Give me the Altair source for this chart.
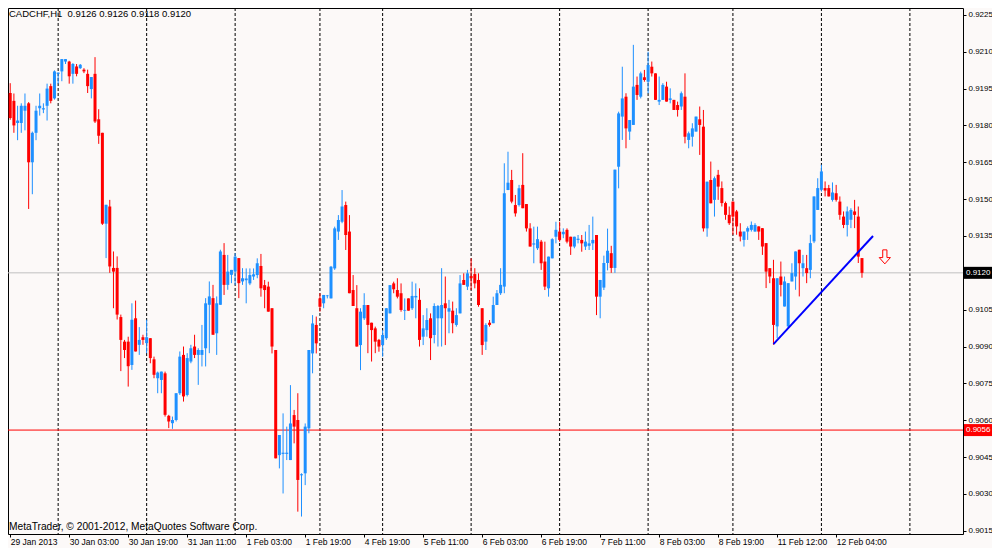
import altair as alt
import pandas as pd
import numpy as np

# ---------------- data ----------------
OPEN = [
    .91932, .91900, .91810, .91810, .91860, .91890, .91650, .91770, .91870, .91865,
    .91880, .91960, .91910, .92010, .92020, .92060, .92060, .92010, .92040, .92033,
    .92027, .92010, .91948, .92010, .91825, .91770, .91400, .91470, .91220, .91220,
    .91020, .90920, .90920, .90825, .91015, .90907, .90938, .90914, .90934, .90848,
    .90771, .90764, .90791, .90618, .90588, .90601, .90710, .90866, .90703, .90839,
    .90900, .90866, .90866, .90893, .91070, .91097, .90954, .91070, .91273, .91151,
    .91192, .91205, .91260, .91165, .91170, .91157, .91185, .91191, .91228, .91150,
    .91144, .91056, .90886, .90458, .90463, .90463, .90438, .90621, .90601, .90376,
    .90384, .90567, .90872, .90988, .91096, .91076, .91105, .91096, .91218, .91368,
    .91408, .91476, .91368, .91130, .91056, .90906, .91015, .91069, .90997, .90974,
    .90927, .90906, .90934, .91035, .91157, .91130, .91117, .91046, .91096, .91056,
    .91100, .91090, .90940, .90967, .91015, .90947, .91015, .91015, .91076, .91042,
    .91046, .90988, .91035, .91171, .91144, .91187, .91195, .91171, .91056, .90920,
    .90997, .90995, .91069, .91117, .91144, .91537, .91578, .91476, .91476, .91558,
    .91480, .91381, .91315, .91300, .91327, .91246, .91137, .91259, .91347, .91368,
    .91357, .91375, .91347, .91307, .91334, .91334, .91307, .91310, .91320, .91354,
    .91103, .91140, .91240, .91280, .91220, .91632, .91836, .91917, .91775, .91802,
    .91965, .91917, .91996, .91978, .92039, .92012, .91897, .91904, .91958, .91904,
    .91904, .91883, .91877, .91917, .91741, .91754, .91775, .91825, .91795, .91381,
    .91578, .91497, .91599, .91545, .91484, .91436, .91490, .91450, .91368, .91334,
    .91368, .91375, .91368, .91389, .91382, .91321, .91219, .91178, .90982, .91185,
    .91063, .90982, .91165, .91185, .91294, .91219, .91219, .91212, .91328, .91456,
    .91538, .91545, .91545, .91497, .91524, .91490, .91429, .91395, .91416, .91450,
    .91429, .91260,
]
HIGH = [
    .91972, .91930, .91880, .91890, .91930, .91895, .91775, .91880, .91930, .91890,
    .91970, .91970, .92024, .92015, .92070, .92070, .92063, .92054, .92050, .92050,
    .92033, .92027, .91997, .92078, .91866, .91770, .91477, .91497, .91287, .91267,
    .91030, .90927, .90940, .91076, .91087, .90979, .90948, .91009, .90934, .90859,
    .90798, .90798, .90798, .90622, .90615, .90710, .90880, .90900, .90873, .90907,
    .90948, .90893, .90988, .91097, .91165, .91151, .91104, .91294, .91321, .91273,
    .91212, .91280, .91260, .91219, .91218, .91218, .91218, .91259, .91277, .91171,
    .91164, .91056, .90886, .90540, .90628, .90574, .90743, .90642, .90710, .90384,
    .90587, .90886, .91028, .91022, .91117, .91110, .91110, .91228, .91388, .91435,
    .91537, .91490, .91435, .91191, .91150, .91056, .91117, .91069, .90997, .90981,
    .90931, .90967, .91056, .91150, .91164, .91178, .91157, .91096, .91096, .91164,
    .91157, .91137, .91028, .91056, .91035, .91076, .91069, .91219, .91185, .91090,
    .91083, .91056, .91191, .91198, .91212, .91259, .91219, .91198, .91056, .90995,
    .91008, .91103, .91130, .91219, .91646, .91693, .91619, .91517, .91558, .91687,
    .91480, .91402, .91388, .91388, .91334, .91327, .91266, .91341, .91408, .91408,
    .91381, .91381, .91347, .91347, .91354, .91354, .91368, .91395, .91429, .91354,
    .91171, .91270, .91380, .91310, .91620, .91856, .92039, .91931, .91822, .92128,
    .91999, .92019, .92026, .92100, .92060, .92012, .91999, .91972, .91978, .91951,
    .91904, .91897, .91938, .92012, .91775, .91809, .91836, .91877, .91863, .91571,
    .91653, .91592, .91619, .91572, .91490, .91470, .91490, .91456, .91402, .91368,
    .91389, .91409, .91402, .91389, .91382, .91321, .91219, .91253, .91178, .91246,
    .91185, .91158, .91239, .91287, .91294, .91273, .91273, .91355, .91511, .91585,
    .91640, .91572, .91558, .91568, .91558, .91511, .91450, .91470, .91463, .91497,
    .91470, .91260,
]
LOW = [
    .91823, .91770, .91740, .91770, .91780, .91460, .91520, .91740, .91840, .91850,
    .91820, .91890, .91905, .91970, .91980, .92050, .91970, .91970, .92000, .92030,
    .92013, .91932, .91910, .91810, .91725, .91395, .91260, .91200, .91056, .91010,
    .90800, .90853, .90737, .90805, .90880, .90866, .90907, .90873, .90832, .90771,
    .90710, .90710, .90615, .90568, .90565, .90595, .90703, .90676, .90697, .90832,
    .90853, .90744, .90819, .90819, .90873, .90948, .90866, .91070, .91110, .91131,
    .91158, .91151, .91097, .91151, .91076, .91150, .91171, .91178, .91103, .91056,
    .91042, .90872, .90445, .90404, .90302, .90438, .90438, .90506, .90228, .90208,
    .90336, .90547, .90791, .90872, .91042, .91056, .91096, .91096, .91212, .91334,
    .91402, .91293, .91117, .91065, .90900, .90804, .91008, .90873, .90839, .90873,
    .90879, .90859, .90927, .91035, .91117, .91096, .91042, .91008, .91046, .91049,
    .91015, .90900, .90906, .90940, .90845, .90913, .90900, .90900, .90906, .90954,
    .90954, .90981, .91035, .91151, .91130, .91130, .91137, .91062, .90866, .90886,
    .90981, .90995, .91069, .91110, .91117, .91537, .91483, .91429, .91470, .91463,
    .91368, .91307, .91239, .91293, .91212, .91130, .91103, .91259, .91320, .91327,
    .91341, .91320, .91273, .91300, .91320, .91286, .91293, .91293, .91293, .91028,
    .91015, .91130, .91210, .91200, .91200, .91544, .91741, .91707, .91741, .91802,
    .91904, .91910, .91978, .91931, .91999, .91904, .91883, .91904, .91897, .91890,
    .91863, .91836, .91863, .91727, .91707, .91714, .91775, .91680, .91368, .91347,
    .91483, .91429, .91497, .91470, .91416, .91395, .91355, .91355, .91328, .91307,
    .91334, .91368, .91368, .91334, .91273, .91138, .91158, .90907, .90934, .91104,
    .91063, .90975, .91165, .91131, .91104, .91185, .91158, .91178, .91321, .91456,
    .91531, .91511, .91511, .91490, .91490, .91416, .91382, .91348, .91382, .91382,
    .91240, .91180,
]
CLOSE = [
    .91830, .91800, .91820, .91880, .91880, .91650, .91770, .91860, .91880, .91870,
    .91950, .91900, .92020, .92015, .92070, .92070, .92000, .92050, .92010, .92047,
    .92020, .91960, .91997, .91816, .91758, .91400, .91477, .91226, .91205, .91030,
    .90927, .90886, .90820, .91009, .90880, .90927, .90927, .90938, .90853, .90785,
    .90794, .90798, .90622, .90595, .90601, .90710, .90859, .90697, .90853, .90893,
    .90866, .90886, .90886, .91076, .91104, .90948, .91076, .91287, .91151, .91205,
    .91212, .91266, .91158, .91178, .91177, .91191, .91194, .91239, .91137, .91130,
    .91042, .90900, .90445, .90540, .90468, .90468, .90587, .90574, .90357, .90380,
    .90574, .90886, .90994, .90913, .91062, .91110, .91108, .91225, .91381, .91415,
    .91470, .91354, .91117, .91065, .90900, .91042, .91069, .90988, .90967, .90920,
    .90900, .90947, .91056, .91150, .91133, .91103, .91049, .91049, .91046, .91106,
    .91106, .90927, .90974, .91008, .90934, .91065, .91065, .91069, .91056, .91056,
    .90995, .91028, .91157, .91151, .91198, .91178, .91157, .91069, .90906, .90988,
    .90988, .91069, .91117, .91151, .91524, .91567, .91490, .91442, .91544, .91463,
    .91381, .91307, .91320, .91337, .91239, .91144, .91266, .91337, .91375, .91334,
    .91367, .91327, .91307, .91347, .91339, .91320, .91327, .91320, .91334, .91103,
    .91171, .91240, .91290, .91220, .91620, .91849, .91910, .91788, .91822, .91958,
    .91924, .92012, .91985, .92046, .92012, .91904, .91904, .91965, .91897, .91910,
    .91863, .91863, .91931, .91754, .91768, .91788, .91836, .91802, .91381, .91571,
    .91483, .91585, .91551, .91484, .91436, .91402, .91429, .91389, .91348, .91368,
    .91382, .91395, .91395, .91368, .91307, .91205, .91185, .90988, .91178, .91151,
    .91165, .91158, .91199, .91287, .91239, .91239, .91199, .91321, .91511, .91545,
    .91613, .91535, .91511, .91527, .91497, .91436, .91395, .91450, .91456, .91436,
    .91266, .91200,
]

TIME_LABELS = ["29 Jan 2013", "30 Jan 03:00", "30 Jan 19:00", "31 Jan 11:00",
               "1 Feb 03:00", "1 Feb 19:00", "4 Feb 19:00", "5 Feb 11:00",
               "6 Feb 03:00", "6 Feb 19:00", "7 Feb 11:00", "8 Feb 03:00",
               "8 Feb 19:00", "11 Feb 12:00", "12 Feb 04:00"]
LABEL_STEP = 16
PRICE_TICKS = [0.9015, 0.9030, 0.9045, 0.9060, 0.9075, 0.9090, 0.9105, 0.9120,
               0.9135, 0.9150, 0.9165, 0.9180, 0.9195, 0.9210, 0.9225]
SEPARATORS = [13, 37, 61, 84, 101, 125, 149, 173, 196, 220, 244]
BID = 0.9120
LEVEL = 0.9056
TREND_BAR = [207, 234]
TREND_PRICE = [0.9091, 0.9135]
ARROW_BAR = [237.2]
ARROW_PRICE = [0.91265]
TITLE = "CADCHF,H1\u00a0\u00a00.9126 0.9126 0.9118 0.9120"
COPYRIGHT = "MetaTrader, © 2001-2012, MetaQuotes Software Corp."

# ---------------- styling ----------------
BG = "#FCF9F8"
UP = "#1E90FF"
DOWN = "#FF0000"
FONT = "Liberation Sans"
W, H = 955, 526

df = pd.DataFrame({"bar": np.arange(len(OPEN)), "o": OPEN, "h": HIGH,
                   "l": LOW, "c": CLOSE})
df["dir"] = np.where(df["c"] >= df["o"], "up", "down")

x_scale = alt.Scale(domain=[-0.6, 258.4], nice=False, zero=False, padding=0)
y_scale = alt.Scale(domain=[0.90137, 0.92278], nice=False, zero=False, padding=0)

# the bid price label sits in its own black box, so the plain axis label is left out
axis_ticks = [t for t in PRICE_TICKS if abs(t - BID) > 1e-9]

label_expr = "[" + ",".join("'%s'" % s for s in TIME_LABELS) + "][round(datum.value/%d)]" % LABEL_STEP
x_axis = alt.Axis(values=[i * LABEL_STEP for i in range(len(TIME_LABELS))],
                  labelExpr=label_expr, labelAlign="left", labelPadding=0,
                  tickSize=3, domain=False, grid=False, title=None,
                  labelFont=FONT, labelFontSize=8.5, labelColor="#000000",
                  tickColor="#000000", labelOverlap=False, labelFlush=False,
                  labelBaseline="top")
y_axis = alt.Axis(values=axis_ticks, format=".4f", orient="right",
                  tickSize=3, labelPadding=2, domain=False, grid=False,
                  title=None, labelFont=FONT, labelFontSize=8,
                  labelColor="#000000", tickColor="#000000",
                  labelOverlap=False, labelFlush=False)

X = lambda f: alt.X(f, scale=x_scale, axis=x_axis)
Y = lambda f: alt.Y(f, scale=y_scale, axis=y_axis)
color = alt.Color("dir:N", scale=alt.Scale(domain=["up", "down"], range=[UP, DOWN]), legend=None)

seps = alt.Chart(pd.DataFrame({"bar": SEPARATORS})).mark_rule(
    color="#000000", strokeWidth=1, strokeDash=[3, 2]).encode(x=X("bar:Q"))

hlines = alt.Chart(pd.DataFrame({"p": [BID, LEVEL], "col": ["#C0C0C0", "#FF0000"]})).mark_rule(
    strokeWidth=1).encode(y=Y("p:Q"), color=alt.Color("col:N", scale=None))

wicks = alt.Chart(df).mark_rule(strokeWidth=1).encode(
    x=X("bar:Q"), y=Y("l:Q"), y2="h:Q", color=color)
bodies = alt.Chart(df).mark_bar(size=3).encode(
    x=X("bar:Q"), y=Y("o:Q"), y2="c:Q", color=color)

trend = alt.Chart(pd.DataFrame({"bar": TREND_BAR, "p": TREND_PRICE})).mark_line(
    color="#0000FF", strokeWidth=2).encode(x=X("bar:Q"), y=Y("p:Q"))

arrow = alt.Chart(pd.DataFrame({"bar": ARROW_BAR, "p": ARROW_PRICE})).mark_point(
    shape="M-0.3,-1L0.3,-1L0.3,0.1L0.8,0.1L0,1L-0.8,0.1L-0.3,0.1Z",
    size=196, filled=False, fill=BG, fillOpacity=1, stroke="#FF0000",
    strokeWidth=1, opacity=1).encode(x=X("bar:Q"), y=Y("p:Q"))

boxes_df = pd.DataFrame({"p": [BID, LEVEL],
                         "lab": ["%.4f" % BID, "%.4f" % LEVEL],
                         "col": ["#000000", "#FF0000"]})
boxes = alt.Chart(boxes_df).mark_tick(orient="horizontal", size=28, thickness=12,
                                      opacity=1).encode(
    x=alt.value(W + 15), y=Y("p:Q"), color=alt.Color("col:N", scale=None))
box_text = alt.Chart(boxes_df).mark_text(align="left", baseline="middle",
                                         font=FONT, fontSize=8, color="#FFFFFF").encode(
    x=alt.value(W + 3), y=Y("p:Q"), text="lab:N")

title = alt.Chart(pd.DataFrame({"t": [TITLE]})).mark_text(
    align="left", baseline="middle", font=FONT, fontSize=9.5, color="#000000").encode(
    x=alt.value(1), y=alt.value(6), text="t:N")
copyright_t = alt.Chart(pd.DataFrame({"t": [COPYRIGHT]})).mark_text(
    align="left", baseline="middle", font=FONT, fontSize=10.2, color="#000000").encode(
    x=alt.value(1), y=alt.value(H - 7), text="t:N")

chart = alt.layer(seps, hlines, wicks, bodies, trend, arrow, boxes, box_text,
                  title, copyright_t).properties(
    width=W, height=H,
    autosize=alt.AutoSizeParams(type="none"),
    padding={"left": 0, "top": 0, "right": 29, "bottom": 14},
    background=BG,
).configure_view(stroke="#000000", strokeWidth=1, fill=BG)

chart.save("out.html", embed_options={"renderer": "svg", "actions": False})
